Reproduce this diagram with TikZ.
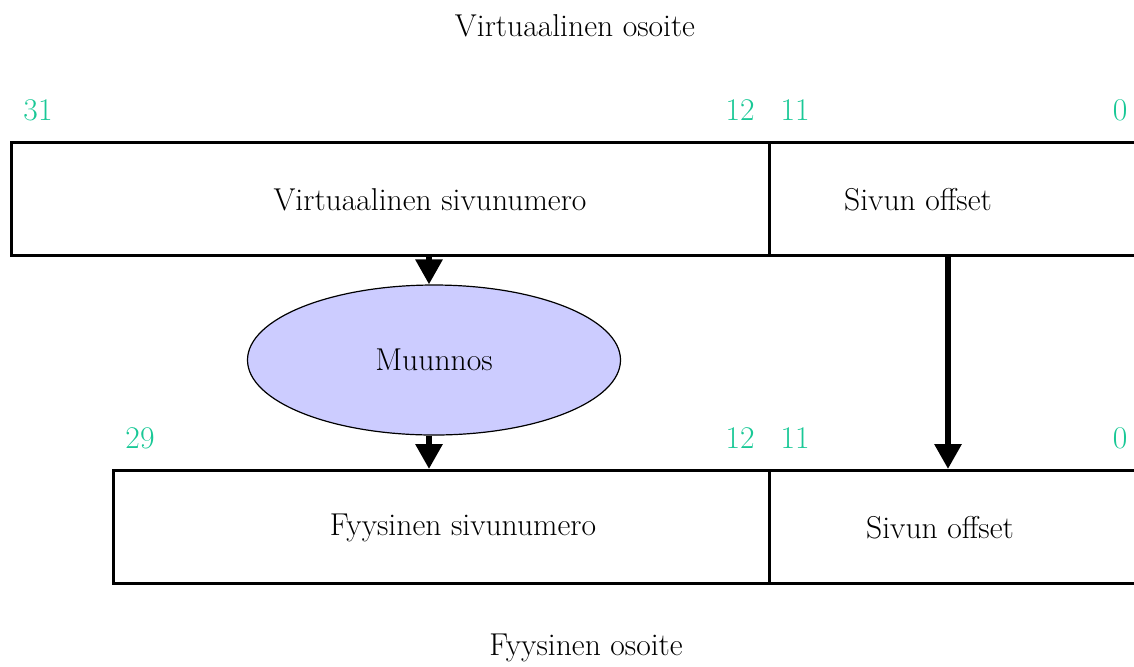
\documentclass[tikz,border=0pt]{standalone}
\usetikzlibrary{arrows.meta,shapes.geometric}
\definecolor{bitgreen}{RGB}{25,200,150}
\definecolor{ellfill}{RGB}{204,204,255}
\begin{document}
\begin{tikzpicture}[x=0.5pt,y=-0.5pt,
  every node/.style={font=\fontsize{15.8}{19}\selectfont, inner sep=0pt},
  field/.style={draw, line width=1.5pt, rectangle, anchor=north west},
  bitnum/.style={text=bitgreen},
  arr/.style={line width=3pt, -{Triangle[width=13pt,length=12.5pt]}},
  lbl/.style={}]
\useasboundingbox (0,0) rectangle (1134,666);
\clip (0,0) rectangle (1134,666);
% title
\node[lbl] (vtitle) at (575,26) {Virtuaalinen osoite};
\node[lbl] (ptitle) at (586,648) {Fyysinen osoite};
% virtual address fields
\node[field, minimum width=379pt, minimum height=56.5pt] (vpn) at (10,141) {};
\node[field, minimum width=200pt, minimum height=56.5pt] (voff) at (768,141) {};
\node[lbl] (vpnt) at (430,200) {Virtuaalinen sivunumero};
\node[lbl] (vofft) at (918,200) {Sivun offset};
% physical address fields
\node[field, minimum width=328pt, minimum height=56.5pt] (ppn) at (112,469) {};
\node[field, minimum width=200pt, minimum height=56.5pt] (poff) at (768,469) {};
\node[lbl] (ppnt) at (463,528) {Fyysinen sivunumero};
\node[lbl] (pofft) at (940,528) {Sivun offset};
% bit numbers
\node[bitnum] (b31) at (38,110) {31};
\node[bitnum] (b12a) at (740,110) {12};
\node[bitnum] (b11a) at (795,110) {11};
\node[bitnum] (b0a) at (1120,110) {0};
\node[bitnum] (b29) at (140,438) {29};
\node[bitnum] (b12b) at (740,438) {12};
\node[bitnum] (b11b) at (795,438) {11};
\node[bitnum] (b0b) at (1120,438) {0};
% translation
\node[ellipse, draw, line width=0.6pt, fill=ellfill, minimum width=186.5pt, minimum height=75pt] (mu) at (434,360) {Muunnos};
% connectors
\coordinate (c1) at (429,254);
\coordinate (c2) at (429,469);
\coordinate (c3) at (948,254);
\coordinate (c4) at (948,469);
\draw[arr] (c1) -- (c1 |- mu.north);
\draw[arr] (c1 |- mu.south) -- (c2);
\draw[arr] (c3) -- (c4);
\end{tikzpicture}
\end{document}
